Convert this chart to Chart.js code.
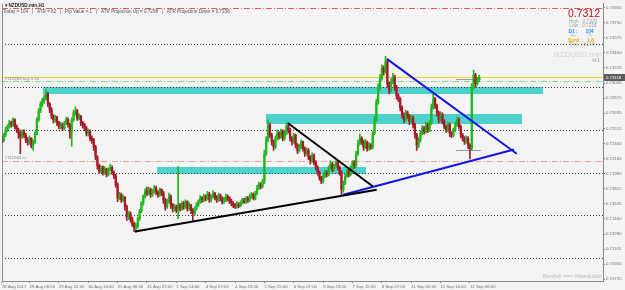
<!DOCTYPE html>
<html><head><meta charset="utf-8">
<script src="https://cdn.jsdelivr.net/npm/chart.js@4.4.0/dist/chart.umd.min.js"></script>
<style>html,body{margin:0;padding:0;background:#f4f4f4;}canvas{display:block;}</style>
</head><body>
<canvas id="c" width="625" height="290"></canvas>
<script>
// ---- DATA (prices in pips, i.e. price * 10000) ----
const opens = [
7243,7240,7238,7244,7250,7254,7258,7256,7262,7254,
7250,7246,7242,7248,7244,7238,7236,7240,7232,7236,
7246,7262,7272,7280,7284,7288,7292,7280,7274,7266,
7262,7264,7258,7254,7256,7252,7258,7262,7256,7248,
7262,7270,7272,7264,7266,7258,7256,7252,7246,7248,
7240,7238,7230,7218,7208,7202,7206,7200,7204,7198,
7204,7206,7200,7196,7186,7170,7174,7168,7171,7160,
7148,7152,7146,7140,7136,7138,7146,7155,7164,7172,
7178,7176,7180,7174,7178,7182,7177,7174,7180,7176,
7168,7160,7166,7172,7162,7158,7160,7156,7162,7158,
7164,7160,7166,7158,7162,7156,7152,7158,7162,7166,
7170,7168,7172,7170,7175,7168,7172,7176,7171,7168,
7174,7170,7166,7168,7172,7170,7167,7164,7162,7160,
7163,7161,7165,7168,7166,7170,7168,7172,7174,7170,
7176,7182,7186,7184,7190,7222,7238,7256,7244,7236,
7230,7240,7246,7242,7248,7240,7246,7254,7250,7240,
7236,7244,7232,7226,7230,7236,7228,7222,7226,7218,
7214,7220,7212,7206,7200,7194,7190,7196,7200,7198,
7206,7210,7204,7208,7212,7206,7200,7180,7188,7196,
7202,7198,7206,7212,7208,7222,7234,7240,7236,7230,
7236,7228,7232,7230,7246,7262,7282,7300,7310,7322,
7318,7330,7304,7296,7306,7312,7300,7290,7286,7276,
7268,7262,7270,7266,7260,7264,7256,7244,7232,7238,
7246,7252,7248,7256,7250,7258,7276,7286,7278,7270,
7262,7268,7260,7254,7250,7256,7246,7244,7250,7256,
7262,7254,7244,7240,7236,7240,7232,7228,7300,7314,
7304,7308];
const highs = [
7246,7243,7246,7253,7256,7261,7260,7264,7263,7256,
7252,7248,7250,7250,7246,7241,7243,7241,7238,7248,
7264,7275,7283,7287,7291,7297,7294,7282,7276,7268,
7267,7266,7260,7259,7258,7260,7265,7264,7258,7264,
7273,7277,7274,7269,7267,7260,7258,7254,7251,7250,
7243,7240,7232,7220,7210,7208,7208,7207,7205,7206,
7210,7208,7202,7198,7188,7177,7176,7174,7172,7162,
7155,7154,7148,7142,7141,7148,7157,7166,7174,7181,
7183,7183,7182,7180,7185,7184,7179,7182,7181,7178,
7170,7169,7176,7174,7164,7163,7162,7207,7164,7166,
7166,7168,7167,7165,7163,7158,7160,7165,7168,7173,
7172,7175,7174,7178,7177,7174,7179,7177,7173,7176,
7175,7172,7171,7175,7174,7172,7169,7166,7164,7166,
7165,7167,7170,7170,7172,7172,7175,7177,7176,7178,
7185,7189,7188,7192,7226,7242,7262,7258,7246,7238,
7243,7250,7248,7251,7250,7249,7258,7256,7252,7242,
7246,7245,7234,7233,7238,7237,7230,7229,7228,7220,
7223,7222,7214,7208,7202,7196,7198,7203,7202,7208,
7214,7212,7210,7214,7213,7208,7202,7190,7198,7204,
7204,7208,7214,7214,7225,7238,7245,7242,7238,7239,
7237,7235,7234,7248,7266,7286,7304,7315,7326,7325,
7336,7332,7306,7310,7316,7314,7302,7292,7288,7278,
7270,7273,7272,7268,7267,7266,7258,7246,7241,7249,
7255,7254,7259,7258,7261,7280,7292,7288,7280,7272,
7271,7270,7262,7256,7259,7258,7248,7252,7259,7265,
7264,7256,7246,7242,7243,7242,7234,7304,7320,7316,
7311,7314];
const lows = [
7237,7235,7236,7242,7248,7252,7253,7254,7251,7247,
7240,7222,7240,7241,7235,7232,7233,7229,7226,7234,
7244,7260,7270,7277,7281,7285,7277,7270,7263,7258,
7259,7255,7251,7251,7249,7250,7256,7253,7240,7231,
7260,7267,7261,7262,7255,7252,7249,7243,7243,7237,
7234,7226,7215,7204,7199,7200,7197,7198,7195,7196,
7202,7198,7193,7183,7166,7168,7165,7166,7156,7144,
7145,7142,7137,7131,7130,7135,7144,7153,7162,7170,
7173,7174,7171,7172,7176,7174,7171,7172,7173,7164,
7156,7158,7164,7158,7154,7155,7153,7146,7155,7156,
7157,7158,7155,7156,7152,7144,7150,7156,7160,7164,
7165,7166,7167,7168,7165,7166,7170,7168,7165,7166,
7167,7163,7164,7166,7167,7164,7161,7159,7158,7158,
7159,7160,7163,7164,7164,7165,7166,7170,7168,7168,
7174,7180,7181,7182,7187,7220,7236,7241,7232,7226,
7228,7238,7239,7240,7237,7238,7244,7246,7237,7232,
7234,7229,7222,7224,7228,7225,7219,7220,7215,7210,
7212,7209,7203,7197,7191,7187,7188,7194,7195,7196,
7204,7201,7202,7206,7203,7197,7174,7177,7186,7194,
7195,7196,7204,7205,7206,7220,7232,7233,7226,7228,
7225,7226,7227,7228,7244,7260,7280,7296,7308,7314,
7316,7300,7292,7294,7304,7296,7286,7283,7272,7264,
7258,7260,7263,7256,7258,7252,7240,7226,7229,7236,
7244,7245,7246,7247,7248,7256,7274,7275,7266,7258,
7260,7257,7251,7247,7248,7242,7241,7242,7248,7254,
7251,7241,7237,7233,7234,7228,7216,7226,7298,7300,
7302,7306];
const closes = [
7240,7238,7244,7250,7254,7258,7256,7262,7254,7250,
7246,7242,7248,7244,7238,7236,7240,7232,7236,7246,
7262,7272,7280,7284,7288,7292,7280,7274,7266,7262,
7264,7258,7254,7256,7252,7258,7262,7256,7248,7262,
7270,7272,7264,7266,7258,7256,7252,7246,7248,7240,
7238,7230,7218,7208,7202,7206,7200,7204,7198,7204,
7206,7200,7196,7186,7170,7174,7168,7171,7160,7148,
7152,7146,7140,7136,7138,7146,7155,7164,7172,7178,
7176,7180,7174,7178,7182,7177,7174,7180,7176,7168,
7160,7166,7172,7162,7158,7160,7156,7162,7158,7164,
7160,7166,7158,7162,7156,7152,7158,7162,7166,7170,
7168,7172,7170,7175,7168,7172,7176,7171,7168,7174,
7170,7166,7168,7172,7170,7167,7164,7162,7160,7163,
7161,7165,7168,7166,7170,7168,7172,7174,7170,7176,
7182,7186,7184,7190,7222,7238,7256,7244,7236,7230,
7240,7246,7242,7248,7240,7246,7254,7250,7240,7236,
7244,7232,7226,7230,7236,7228,7222,7226,7218,7214,
7220,7212,7206,7200,7194,7190,7196,7200,7198,7206,
7210,7204,7208,7212,7206,7200,7180,7188,7196,7202,
7198,7206,7212,7208,7222,7234,7240,7236,7230,7236,
7228,7232,7230,7246,7262,7282,7300,7310,7322,7318,
7330,7304,7296,7306,7312,7300,7290,7286,7276,7268,
7262,7270,7266,7260,7264,7256,7244,7232,7238,7246,
7252,7248,7256,7250,7258,7276,7286,7278,7270,7262,
7268,7260,7254,7250,7256,7246,7244,7250,7256,7262,
7254,7244,7240,7236,7240,7232,7228,7300,7314,7304,
7308,7312];

const xTickBars   = [1,16,32,48,64,80,96,112,128,144,160,176,192,208,224,240,256];
const xTickLabels = ["28 Aug 2017","29 Aug 06:00","29 Aug 22:00","30 Aug 14:00","31 Aug 06:00","31 Aug 22:00","1 Sep 14:00","4 Sep 07:00","4 Sep 23:00","5 Sep 15:00","6 Sep 07:00","6 Sep 23:00","7 Sep 15:00","8 Sep 07:00","11 Sep 00:00","11 Sep 16:00","12 Sep 08:00"];
const yTickValues = [7393,7375,7357.5,7340,7322.5,7304.5,7287,7269.5,7251.5,7234,7216.5,7199,7181.5,7163.5,7146,7128,7110.5,7093,7075.5];

// supply/demand zones (bar index from/to, price top/bottom)
const zoneStart  = [23.4, 145, 85.5];
const zoneEnd    = [296, 284.4, 199.4];
const zoneTop    = [7300, 7269, 7207];
const zoneBottom = [7292, 7257, 7198.5];

// trend lines (bar index, price)
const blackUpX = [73.5, 205.2],  blackUpY = [7131, 7180];
const blackDnX = [156.7, 203],   blackDnY = [7258, 7184];
const blueDnX  = [210.7, 281.5], blueDnY  = [7333, 7222];
const blueUpX  = [187, 280],     blueUpY  = [7174, 7227];

const roundLevels = [7350, 7300, 7250, 7200, 7150, 7100];
const currentPrice = 7311.8;
const buyLevel = 7307;
const slLevel = 7214;
const topLevel = 7393;
const markerLevels = [7309, 7227];
const markerFrom = 248.3, markerTo = 262;

// ---- CHART ----
const FONT = '"Liberation Sans", Arial, sans-serif';
const BULL = '#1fb81f', BEAR = '#a8182a';
const candleColors = closes.map((c, i) => c >= opens[i] ? BULL : BEAR);
const bodies = closes.map((c, i) => ({x: i, y: [opens[i], c]}));
const wicks  = closes.map((c, i) => ({x: i, y: [lows[i], highs[i]]}));
const seg = (xs, ys) => xs.map((v, k) => ({x: v, y: ys[k]}));

function hline(ctx, a, py, color, dash, w) {
  ctx.save();
  ctx.strokeStyle = color; ctx.lineWidth = w || 1; ctx.setLineDash(dash);
  const yy = Math.round(py) + 0.5;
  ctx.beginPath(); ctx.moveTo(a.left, yy); ctx.lineTo(a.right, yy); ctx.stroke();
  ctx.restore();
}

const overlay = {
  id: 'overlay',
  beforeDatasetsDraw(chart) {
    const {ctx, chartArea: a, scales: {x, y}} = chart;
    ctx.save();
    ctx.beginPath(); ctx.rect(a.left, a.top, a.right - a.left, a.bottom - a.top); ctx.clip();
    ctx.fillStyle = '#4dd2cd';
    zoneStart.forEach((s, k) => {
      const x1 = x.getPixelForValue(s), x2 = x.getPixelForValue(zoneEnd[k]);
      const y1 = y.getPixelForValue(zoneTop[k]), y2 = y.getPixelForValue(zoneBottom[k]);
      ctx.fillRect(Math.round(x1), Math.round(y1), Math.round(x2 - x1), Math.round(y2 - y1));
    });
    roundLevels.forEach(v => hline(ctx, a, y.getPixelForValue(v), '#3a3a3a', [1, 2]));
    hline(ctx, a, y.getPixelForValue(topLevel), '#e65a5a', [6, 2, 1, 2]);
    hline(ctx, a, y.getPixelForValue(slLevel), '#f0a0a0', [6, 2, 1, 2]);
    hline(ctx, a, y.getPixelForValue(buyLevel), '#86dc86', [6, 2, 1, 2]);
    hline(ctx, a, y.getPixelForValue(currentPrice), '#f2d21a', []);
    ctx.strokeStyle = '#9a9a9a'; ctx.lineWidth = 1;
    markerLevels.forEach(v => {
      const yy = Math.round(y.getPixelForValue(v)) + 0.5;
      ctx.beginPath(); ctx.moveTo(x.getPixelForValue(markerFrom), yy); ctx.lineTo(x.getPixelForValue(markerTo), yy); ctx.stroke();
    });
    // left border
    ctx.restore();
    ctx.save();
    ctx.strokeStyle = '#8a8a8a'; ctx.lineWidth = 1;
    ctx.beginPath(); ctx.moveTo(a.left + 0.5, a.top); ctx.lineTo(a.left + 0.5, a.bottom); ctx.stroke();
    ctx.restore();
  },
  afterDraw(chart) {
    const {ctx, chartArea: a, scales: {y}} = chart;
    ctx.save();
    ctx.textBaseline = 'alphabetic';
    // order labels
    ctx.fillStyle = '#8a8a8a'; ctx.font = '4.3px ' + FONT; ctx.textAlign = 'left';
    ctx.fillText('#112863 buy 0.10', 5, y.getPixelForValue(currentPrice) + 3);
    ctx.fillText('#112863 sl', 5, y.getPixelForValue(slLevel) - 2);
    // header
    ctx.fillStyle = '#202020'; ctx.font = 'bold 4.6px ' + FONT;
    ctx.fillText('\u25BCNZDUSD.min,H1', 4, 7);
    ctx.fillStyle = '#555'; ctx.font = '4.6px ' + FONT;
    ctx.fillText('Today = 104   |   ATR = 82   |   Pip Value = 1   |   ATR Projection Up = 0.7298   |   ATR Projection Down = 0.7238', 3, 13);
    // info panel
    ctx.textAlign = 'right';
    ctx.fillStyle = '#c0141c'; ctx.font = '10.5px ' + FONT;
    ctx.fillText((currentPrice / 10000).toFixed(4), 600, 17);
    ctx.textAlign = 'center'; ctx.font = '4.8px ' + FONT;
    ctx.fillStyle = '#a0a0a0';
    ctx.fillText('High : 0.7320', 583, 22.5);
    ctx.fillText('Low : 0.7216', 583, 27);
    ctx.fillStyle = '#1e90ff'; ctx.font = 'bold 4.8px ' + FONT;
    ctx.fillText('D1 :      104', 581, 32.5);
    ctx.fillStyle = '#b8b8b8'; ctx.font = '4.8px ' + FONT;
    ctx.fillText('Av :      74', 581, 37);
    ctx.fillStyle = '#e0b400'; ctx.font = 'bold 4.8px ' + FONT;
    ctx.fillText('Sprd :    1.6', 581, 41.5);
    ctx.fillStyle = '#a8a8a8'; ctx.font = '4.8px ' + FONT;
    ctx.fillText('Time : 31:08', 582, 46);
    ctx.fillStyle = '#d2d2d2'; ctx.font = '8px ' + FONT;
    ctx.fillText('NZDUSD.min', 578, 56.5);
    ctx.textAlign = 'right'; ctx.fillStyle = '#a0a0a0'; ctx.font = '6px ' + FONT;
    ctx.fillText('H1', 600, 62);
    // footer
    ctx.fillStyle = '#b8b8b8'; ctx.font = '4.6px ' + FONT;
    ctx.fillText('Bismillah <==> Alhamdulillah', 602, a.bottom - 3);
    // current price box on axis
    const py = Math.round(y.getPixelForValue(currentPrice));
    ctx.fillStyle = '#5c5c5c';
    ctx.fillRect(a.right + 1, py - 3, 22, 7);
    ctx.fillStyle = '#ffffff'; ctx.textAlign = 'left'; ctx.font = '4.3px ' + FONT;
    ctx.fillText((currentPrice / 10000).toFixed(5), a.right + 3, py + 2);
    ctx.restore();
  }
};

const lineDs = (data, color) => ({type: 'line', data, borderColor: color, borderWidth: 2, pointRadius: 0, fill: false, order: 0});

new Chart(document.getElementById('c'), {
  type: 'bar',
  data: {
    datasets: [
      {data: wicks, backgroundColor: candleColors, barThickness: 1, grouped: false, order: 3},
      {data: bodies, backgroundColor: candleColors, barThickness: 1.6, grouped: false, minBarLength: 1, order: 2},
      lineDs(seg(blackUpX, blackUpY), '#000000'),
      lineDs(seg(blackDnX, blackDnY), '#000000'),
      lineDs(seg(blueDnX, blueDnY), '#1414e6'),
      lineDs(seg(blueUpX, blueUpY), '#1414e6')
    ]
  },
  options: {
    responsive: false,
    animation: false,
    layout: {padding: {left: 2, top: 2, right: 0, bottom: 0}},
    plugins: {legend: {display: false}, tooltip: {enabled: false}},
    scales: {
      x: {
        type: 'linear', min: 1.01, max: 328.5, offset: false,
        afterBuildTicks: ax => { ax.ticks = xTickBars.map(v => ({value: v})); },
        afterFit: ax => { ax.height = 9; },
        ticks: {
          autoSkip: false, maxRotation: 0, align: 'start', padding: 1,
          color: '#707070', font: {size: 4.3, family: FONT},
          callback: v => xTickLabels[xTickBars.indexOf(v)]
        },
        grid: {drawOnChartArea: false, tickLength: 2, color: '#8a8a8a', offset: false},
        border: {color: '#8a8a8a'}
      },
      y: {
        position: 'right', min: 7073.2, max: 7397.7, beginAtZero: false,
        afterBuildTicks: ax => { ax.ticks = yTickValues.map(v => ({value: v})); },
        afterFit: ax => { ax.width = 22; },
        ticks: {
          padding: 1, color: '#707070', font: {size: 4.3, family: FONT},
          callback: v => (v / 10000).toFixed(5)
        },
        grid: {drawOnChartArea: false, tickLength: 2, color: '#8a8a8a'},
        border: {color: '#8a8a8a'}
      }
    }
  },
  plugins: [overlay]
});
</script>
</body></html>
